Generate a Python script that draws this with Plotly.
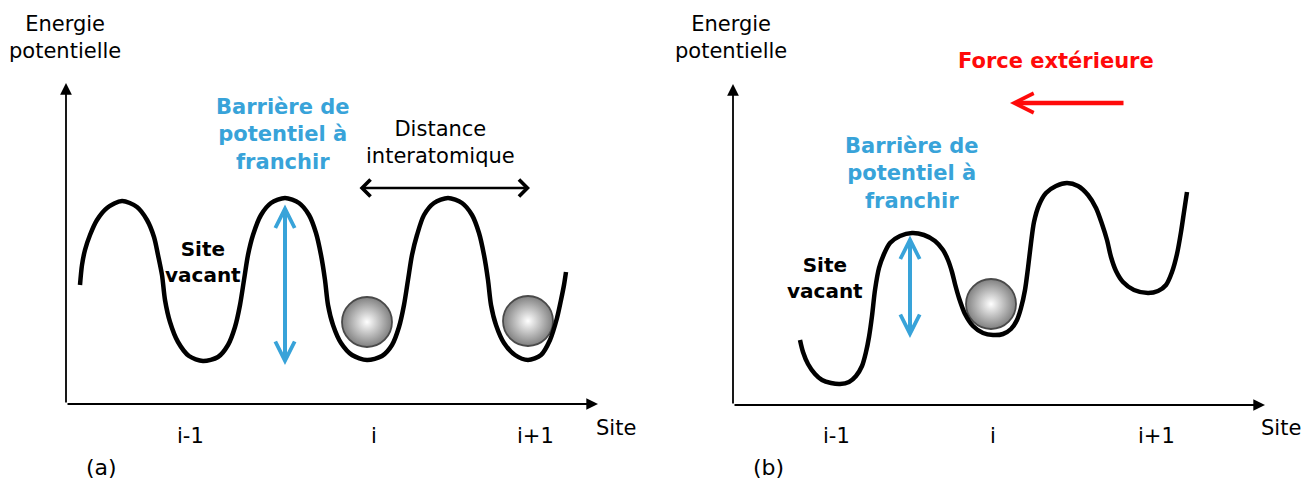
import plotly.graph_objects as go

# ---------------- data (picture coordinates, px; y grows downward) ----------------
# Panel (a): periodic potential
curve_a_x = [80, 82, 85, 90, 97, 107, 122, 137, 147, 154, 158, 162, 165, 170, 178, 189, 203,
             218, 228, 235, 240, 244, 248, 253, 261, 271, 285, 299, 309, 316, 321, 325, 328,
             333, 341, 352, 367, 382, 392, 399, 404, 408, 412, 417, 424, 434, 448, 462, 472,
             479, 484, 488, 491, 496, 504, 515, 528, 541, 550, 557, 561, 564, 566]
curve_a_y = [285, 265, 250, 235, 220, 208, 201, 207, 220, 237, 255, 275, 300, 322, 342, 356, 361,
             357, 345, 327, 305, 280, 255, 235, 215, 203, 198, 203, 215, 233, 255, 280, 305,
             325, 343, 355, 360, 356, 345, 327, 305, 280, 255, 235, 215, 203, 198, 203, 215,
             233, 255, 280, 305, 325, 343, 355, 360, 355, 340, 318, 300, 285, 272]

# Panel (b): tilted potential under an external force
curve_b_x = [800, 803, 808, 815, 822, 831, 840, 849, 856, 862, 866, 869, 872, 875, 879, 884, 890,
             900, 912, 924, 935, 943, 948, 952, 955, 959, 965, 973, 983, 993, 1003, 1011, 1017,
             1021, 1025, 1028, 1031, 1034, 1039, 1046, 1056, 1067, 1078, 1088, 1096, 1102,
             1107, 1111, 1116, 1123, 1134, 1148, 1158, 1166, 1172, 1177, 1181, 1184, 1187]
curve_b_y = [340, 352, 364, 374, 380, 383, 384, 382, 376, 366, 352, 337, 316, 290, 268, 254, 243,
             236, 233, 235, 241, 250, 260, 272, 284, 298, 314, 326, 333, 335, 334, 329, 320,
             308, 290, 268, 243, 222, 205, 193, 186, 183, 186, 195, 208, 224, 240, 257, 271,
             282, 290, 293, 291, 285, 272, 254, 232, 212, 192]

# atoms sitting in the wells
atoms_a_x = [367, 528]
atoms_a_y = [322, 321]
atoms_b_x = [991]
atoms_b_y = [304]

# axes (origin, top of y-arrow, tip of x-arrow)
axis_a = dict(x0=66, y0=404, ytop=83, xtip=598)
axis_b = dict(x0=733, y0=405, ytop=84, xtip=1265)

# site tick labels
tick_labels = ["i-1", "i", "i+1"]
ticks_a_x = [190, 374, 535]
ticks_b_x = [836, 993, 1156]
ticks_y = 436

# barrier arrows (x, top, bottom)
barrier_a = (285, 203, 365)
barrier_b = (910, 234, 338)
# interatomic distance arrow (y, left, right)
distance_a = (188, 358, 530)
# external force arrow (y, tail, head)
force_b = (103, 1125, 1010)

BLUE = "#38a3d9"
RED = "#ff0a0a"
FONT = "DejaVu Sans, Liberation Sans, Arial, sans-serif"

fig = go.Figure()

# atoms (drawn first so the curve sits on top)
for ax_, ay_ in ((atoms_a_x, atoms_a_y), (atoms_b_x, atoms_b_y)):
    fig.add_trace(go.Scatter(
        x=ax_, y=ay_, mode="markers", hoverinfo="skip",
        marker=dict(size=50, color="#808080",
                    gradient=dict(type="radial", color="#ffffff"),
                    line=dict(color="#4a4a4a", width=1.8)),
    ))

for cx, cy in ((curve_a_x, curve_a_y), (curve_b_x, curve_b_y)):
    fig.add_trace(go.Scatter(
        x=cx, y=cy, mode="lines", hoverinfo="skip",
        line=dict(color="#000000", width=4.5, shape="spline", smoothing=0.8),
    ))

ann = []

def arrow(x, y, ax, ay, color, width, head, size, both=False):
    d = dict(x=x, y=y, ax=ax, ay=ay, xref="x", yref="y", axref="x", ayref="y",
             text="", showarrow=True, arrowcolor=color, arrowwidth=width,
             arrowhead=head, arrowsize=size)
    if both:
        d.update(arrowside="end+start", startarrowhead=head, startarrowsize=size)
    ann.append(d)

def text(x, y, s, size=21, color="#000000", bold=False):
    if bold:
        s = "<b>" + s.replace("<br>", "</b><br><b>") + "</b>"
    ann.append(dict(x=x, y=y, xref="x", yref="y", text=s, showarrow=False,
                    xanchor="center", yanchor="middle", align="center",
                    font=dict(family=FONT, size=size, color=color)))

# coordinate axes
for a in (axis_a, axis_b):
    arrow(a["x0"], a["ytop"], a["x0"], a["y0"], "#000000", 1.8, 2, 1.3)
    arrow(a["xtip"], a["y0"], a["x0"], a["y0"], "#000000", 1.8, 2, 1.3)

# barrier arrows
for bx, btop, bbot in (barrier_a, barrier_b):
    arrow(bx, bbot, bx, btop, BLUE, 4, 5, 0.95, both=True)

# distance arrow
arrow(distance_a[2], distance_a[0], distance_a[1], distance_a[0], "#000000", 2.5, 4, 1.3, both=True)
# force arrow
arrow(force_b[2], force_b[0], force_b[1], force_b[0], RED, 4.5, 5, 0.85)

# texts
for xc in (65, 731):
    text(xc, 37, "Energie<br>potentielle")
for xs, xt in ((616, ticks_a_x), (1281, ticks_b_x)):
    for lab, tx in zip(tick_labels, xt):
        text(tx, ticks_y, lab)
    text(xs, 428, "Site")
text(101, 467, "(a)", size=22)
text(768, 467, "(b)", size=22)

text(283, 134, "Barrière de<br>potentiel à<br>franchir", size=21, color=BLUE, bold=True)
text(912, 173, "Barrière de<br>potentiel à<br>franchir", size=21, color=BLUE, bold=True)
text(440, 142, "Distance<br>interatomique")
text(203, 262, "Site<br>vacant", size=20, bold=True)
text(825, 278, "Site<br>vacant", size=20, bold=True)
text(1056, 61, "Force extérieure", size=21, color=RED, bold=True)

fig.update_layout(
    width=1315, height=489,
    margin=dict(l=0, r=0, t=0, b=0),
    paper_bgcolor="white", plot_bgcolor="white",
    showlegend=False,
    xaxis=dict(range=[0, 1315], visible=False, fixedrange=True),
    yaxis=dict(range=[489, 0], visible=False, fixedrange=True),
    annotations=ann,
)

fig.write_html(
    "out.html",
    config={"displayModeBar": False},
    post_script="document.body.style.margin='0';document.body.style.padding='0';"
                "document.body.style.overflow='hidden';",
)
